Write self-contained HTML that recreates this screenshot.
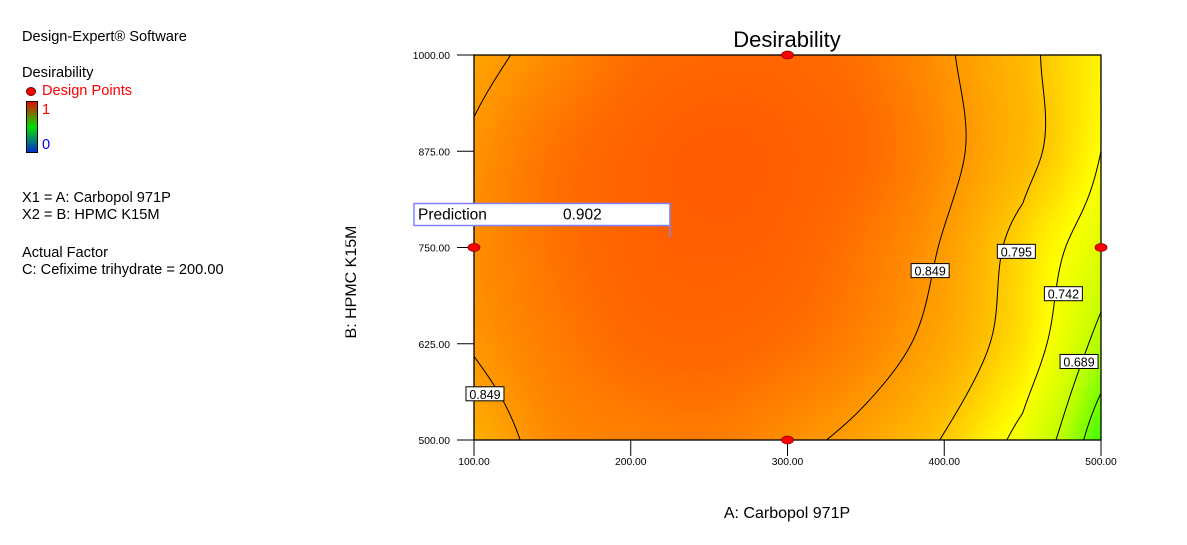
<!DOCTYPE html>
<html><head><meta charset="utf-8">
<style>
body{margin:0;background:#fff;width:1187px;height:545px;overflow:hidden;position:relative;font-family:"Liberation Sans",Arial,sans-serif}
.t{position:absolute;font-size:14.6px;color:#000;white-space:nowrap;line-height:16px}
#cv{position:absolute;left:474px;top:55px}
svg{position:absolute;left:0;top:0}
</style></head><body>
<div class="t" style="left:22px;top:29px">Design-Expert® Software</div>
<div class="t" style="left:22px;top:65px">Desirability</div>
<div style="position:absolute;left:26px;top:87px;width:8px;height:7px;border-radius:50%;background:#f00;border:1px solid #600"></div>
<div class="t" style="left:42px;top:83px;color:#f00">Design Points</div>
<div style="position:absolute;left:26px;top:101px;width:10px;height:50px;border:1px solid #000;background:linear-gradient(#e01000,#00e000 50%,#0030d0)"></div>
<div class="t" style="left:42px;top:102px;color:#f00">1</div>
<div class="t" style="left:42px;top:137px;color:#00f">0</div>
<div class="t" style="left:22px;top:190px">X1 = A: Carbopol 971P</div>
<div class="t" style="left:22px;top:207px">X2 = B: HPMC K15M</div>
<div class="t" style="left:22px;top:245px">Actual Factor</div>
<div class="t" style="left:22px;top:262px">C: Cefixime trihydrate = 200.00</div>
<canvas id="cv" width="627" height="385"></canvas>
<svg id="s" width="1187" height="545">
<defs><clipPath id="yc"><rect x="345.5" y="227" width="30" height="200"/></clipPath></defs>
<text x="787" y="47" font-size="22" text-anchor="middle">Desirability</text>
<text x="787" y="518" font-size="16" text-anchor="middle">A: Carbopol 971P</text>
<g clip-path="url(#yc)"><text transform="translate(356,282) rotate(-90)" font-size="16" text-anchor="middle">B: HPMC K15M</text></g>
</svg>
<script>
const xVals=[100,150,200,250,300,350,400,450,475,500];
const yVals=[500,625,750,875,1000];
const row500=[0.82,0.865,0.875,0.88,0.86,0.835,0.792,0.73,0.68,0.598];
const row625=[0.852,0.88,0.90,0.905,0.895,0.87,0.83,0.77,0.725,0.672];
const row750=[0.86,0.89,0.91,0.915,0.91,0.885,0.845,0.78,0.745,0.715];
const row875=[0.855,0.89,0.91,0.92,0.915,0.90,0.862,0.812,0.78,0.742];
const row1000=[0.835,0.865,0.895,0.905,0.905,0.89,0.855,0.81,0.78,0.755];
const contourLevels=[0.636,0.689,0.742,0.795,0.849];
const contourLabels=[[0.849,391,720],[0.795,446,745],[0.742,476,690],[0.689,486,602],[0.849,107,560]];
const xTicks=[100,200,300,400,500];
const yTicks=[500,625,750,875,1000];
const designX=[100,300,300,500];
const designY=[750,1000,500,750];
const prediction={label:'Prediction',value:'0.902',x:225,y:763};
const rows=[row500,row625,row750,row875,row1000];
const L=474,R=1101,T=55,B=440;
const sx=v=>L+(v-100)/400*(R-L), sy=v=>B-(v-500)/500*(B-T);
function fidx(arr,v){let i=0;while(i<arr.length-2&&v>arr[i+1])i++;return i+(v-arr[i])/(arr[i+1]-arr[i]);}
function cr(p0,p1,p2,p3,t){return p1+0.5*t*(p2-p0+t*(2*p0-5*p1+4*p2-p3+t*(3*(p1-p2)+p3-p0)));}
function rowAt(r,fi){const n=r.length,i=Math.min(Math.floor(fi),n-2),t=fi-i;
  const g=k=>k<0?2*r[0]-r[1]:k>=n?2*r[n-1]-r[n-2]:r[k];
  return cr(g(i-1),g(i),g(i+1),g(i+2),t);}
function val(x,y){
  const fi=fidx(xVals,x),fj=fidx(yVals,y);
  const col=rows.map(r=>rowAt(r,fi));
  return rowAt(col,fj);
}
const stops=[[0.55,[0,255,0]],[0.60,[68,255,0]],[0.68,[187,255,0]],[0.745,[255,255,0]],[0.80,[255,192,0]],[0.85,[255,152,0]],[0.90,[255,106,0]],[1,[255,32,0]]];
function colr(v){for(let k=0;k<stops.length-1;k++){const[a,ca]=stops[k],[b,cb]=stops[k+1];if(v<=b||k==stops.length-2){const t=Math.max(0,Math.min(1,(v-a)/(b-a)));return ca.map((c,n)=>c+(cb[n]-c)*t);}}}
const cv=document.getElementById('cv'),ctx=cv.getContext('2d'),img=ctx.createImageData(627,385);
for(let py=0;py<385;py++)for(let px=0;px<627;px++){
  const x=100+px/626*400,y=1000-py/384*500,c=colr(val(x,y)),o=(py*627+px)*4;
  img.data[o]=c[0];img.data[o+1]=c[1];img.data[o+2]=c[2];img.data[o+3]=255;}
ctx.putImageData(img,0,0);
const NS='http://www.w3.org/2000/svg',s=document.getElementById('s');
function mk(t,a,p){const e=document.createElementNS(NS,t);for(const k in a)e.setAttribute(k,a[k]);(p||s).appendChild(e);return e;}
const N=200,M=150;
contourLevels.forEach(lv=>{
  let d='';
  for(let j=0;j<M;j++)for(let i=0;i<N;i++){
    const x0=100+i*400/N,x1=100+(i+1)*400/N,y0=500+j*500/M,y1=500+(j+1)*500/M;
    const P=[[x0,y0],[x1,y0],[x1,y1],[x0,y1]],V=P.map(p=>val(p[0],p[1]));
    const pts=[];
    for(let k=0;k<4;k++){const a=V[k],b=V[(k+1)%4];if((a>=lv)!=(b>=lv)){const t=(lv-a)/(b-a),p=P[k],q=P[(k+1)%4];pts.push([p[0]+(q[0]-p[0])*t,p[1]+(q[1]-p[1])*t]);}}
    for(let k=0;k+1<pts.length;k+=2)d+=`M${sx(pts[k][0]).toFixed(2)},${sy(pts[k][1]).toFixed(2)}L${sx(pts[k+1][0]).toFixed(2)},${sy(pts[k+1][1]).toFixed(2)}`;
  }
  const p=mk('path',{d:d,stroke:'#000','stroke-width':1,fill:'none','stroke-linecap':'round'});
  
  
});
mk('rect',{x:L,y:T,width:R-L,height:B-T,fill:'none',stroke:'#000','stroke-width':1.3});
contourLabels.forEach(c=>{
  const g=mk('g',{});
  
  
  const cx=sx(c[1]),cy=sy(c[2]);
  mk('rect',{x:cx-19,y:cy-7,width:38,height:14,fill:'#fff',stroke:'#000'},g);
  mk('text',{x:cx,y:cy+5,'font-size':12.5,'text-anchor':'middle'},g).textContent=c[0].toFixed(3);
});
xTicks.forEach(v=>{
  const l=mk('line',{x1:sx(v),x2:sx(v),y1:B,y2:B+16,stroke:'#000'});
  
  
  const t=mk('text',{x:sx(v),y:B+25,'font-size':10.3,'text-anchor':'middle'});
  
  
  t.textContent=v.toFixed(2);
});
yTicks.forEach(v=>{
  const l=mk('line',{x1:L-17,x2:L,y1:sy(v),y2:sy(v),stroke:'#000'});
  
  
  const t=mk('text',{x:L-24,y:sy(v)+4,'font-size':10.3,'text-anchor':'end'});
  
  
  t.textContent=v.toFixed(2);
});
designX.forEach((x,k)=>{
  const e=mk('ellipse',{cx:sx(x),cy:sy(designY[k]),rx:6,ry:4,fill:'#f00',stroke:'#800','stroke-width':0.7});
  
  
});
const g=mk('g',{});


const px=sx(prediction.x),py=sy(prediction.y);
mk('rect',{x:414,y:203.5,width:px-414,height:22,fill:'#fff',stroke:'#8080ff','stroke-width':1.5},g);
mk('line',{x1:px,x2:px,y1:225,y2:py,stroke:'#8080ff','stroke-width':1.5},g);
mk('text',{x:418,y:219.5,'font-size':15.5},g).textContent=prediction.label;
mk('text',{x:563,y:219.5,'font-size':15.5},g).textContent=prediction.value;
</script>
</body></html>
